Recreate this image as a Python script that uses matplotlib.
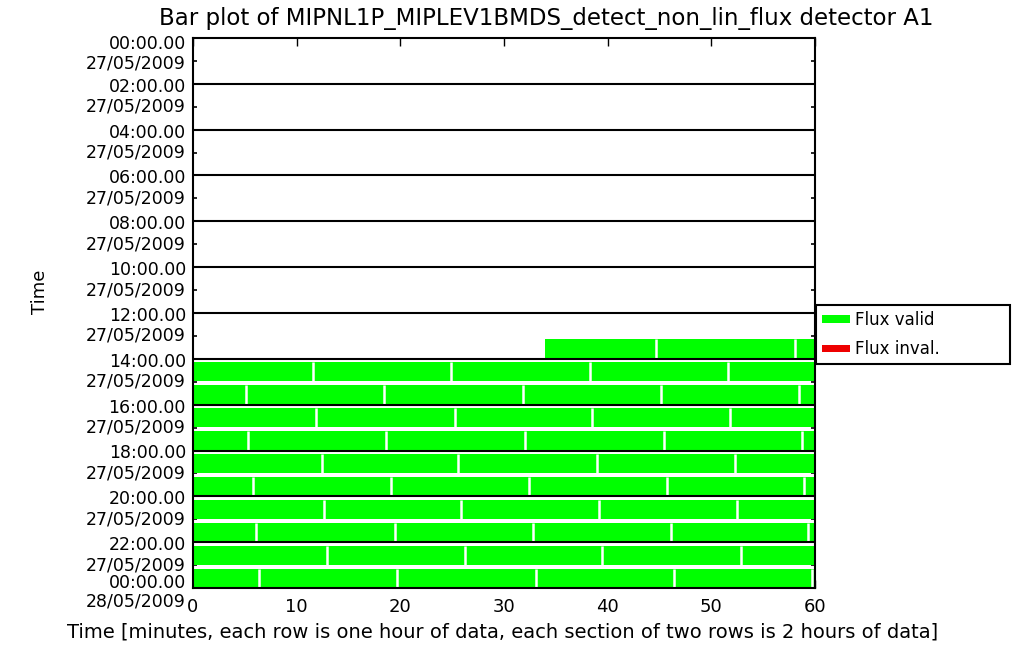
import matplotlib
matplotlib.use('Agg')
import matplotlib.pyplot as plt
from matplotlib.patches import Patch
from matplotlib.transforms import blended_transform_factory, offset_copy

# start of each flux-valid section, minutes since 00:00 27/05/2009
section_start = [814.0, 824.7, 838.1, 851.55, 864.9, 878.25, 891.6, 905.1, 918.4, 931.8,
                 945.1, 958.5, 971.9, 985.3, 998.5, 1011.8, 1025.3, 1038.65, 1052.05, 1065.4,
                 1078.7, 1092.4, 1105.6, 1118.96, 1132.3, 1145.77, 1159.1, 1172.4, 1185.7,
                 1198.9, 1212.6, 1225.9, 1239.2, 1252.5, 1266.1, 1279.45, 1292.75, 1306.1,
                 1319.35, 1332.9, 1346.2, 1359.5, 1372.9, 1386.4, 1399.7, 1413.1, 1426.4,
                 1439.7]
data_end = 1440.0

tick_hours = list(range(0, 25, 2))
tick_times = ['00:00.00', '02:00.00', '04:00.00', '06:00.00', '08:00.00', '10:00.00',
              '12:00.00', '14:00.00', '16:00.00', '18:00.00', '20:00.00', '22:00.00',
              '00:00.00']
tick_dates = ['27/05/2009'] * 12 + ['28/05/2009']
x_ticks = [0, 10, 20, 30, 40, 50, 60]

GREEN = '#00ff00'
RED = '#ee0000'

fig = plt.figure(figsize=(10.16, 6.63), dpi=100)
ax = fig.add_axes([193 / 1016, 1 - 588 / 663, (815 - 193) / 1016, (588 - 38) / 663])

bar_y0, bar_h = 0.15, 0.83
ends = section_start[1:] + [data_end]
for i, (start, stop) in enumerate(zip(section_start, ends)):
    t = start
    while t < stop - 1e-9:
        hr = int(t // 60)
        end = min(stop, (hr + 1) * 60)
        ax.broken_barh([(t - hr * 60, end - t)], (hr + bar_y0, bar_h),
                       facecolors=GREEN, edgecolor='none', zorder=2)
        t = end
    if i > 0:
        hr = int(start // 60)
        ax.vlines(start - hr * 60, hr + bar_y0, hr + bar_y0 + bar_h,
                  colors='white', lw=1.8, zorder=2.5)

for h in tick_hours[1:-1]:
    ax.axhline(h, color='black', lw=1.5, zorder=3)

ax.set_xlim(0, 60)
ax.set_ylim(24, 0)
ax.set_xticks(x_ticks)
ax.set_xticklabels([str(v) for v in x_ticks])
ax.tick_params(axis='x', direction='in', top=True, length=6, width=1,
               labelsize=13, pad=7)
ax.set_yticks(tick_hours)
ax.set_yticks(range(1, 24, 2), minor=True)
ax.tick_params(axis='y', which='major', length=0, labelleft=False)
ax.tick_params(axis='y', which='minor', direction='in', length=3, width=1.2,
               left=True, right=True, labelleft=False)
for s in ax.spines.values():
    s.set_linewidth(1.5)
    s.set_zorder(4)

# two-line time/date labels on the left
trans = blended_transform_factory(ax.transAxes, ax.transData)
for k, (h, tm, dt) in enumerate(zip(tick_hours, tick_times, tick_dates)):
    dy, gap = -3, 20
    if k == 0:
        dy = -6
    elif k == len(tick_hours) - 1:
        dy, gap = 5, 19
    ax.text(0, h, tm, transform=offset_copy(trans, fig, x=-7, y=dy, units='dots'),
            ha='right', va='center', fontsize=12.5)
    ax.text(0, h, dt, transform=offset_copy(trans, fig, x=-7, y=dy - gap, units='dots'),
            ha='right', va='center', fontsize=12.5)

fig.text(546 / 1016, 1 - 18 / 663,
         'Bar plot of MIPNL1P_MIPLEV1BMDS_detect_non_lin_flux detector A1',
         ha='center', va='center', fontsize=16.5)
fig.text(503 / 1016, 1 - 632 / 663,
         'Time [minutes, each row is one hour of data, each section of two rows is 2 hours of data]',
         ha='center', va='center', fontsize=14)
fig.text(40 / 1016, 1 - 292 / 663, 'Time', rotation=90, ha='center', va='center',
         fontsize=13)

handles = [Patch(facecolor=GREEN, edgecolor='none', label='Flux valid'),
           Patch(facecolor=RED, edgecolor='none', label='Flux inval.')]
leg = fig.legend(handles=handles, loc='upper left', mode='expand',
                 bbox_to_anchor=(816 / 1016, 1 - 363 / 663, 194 / 1016, 58 / 663),
                 fontsize=12, handlelength=1.7, handleheight=0.35, handletextpad=0.3,
                 labelspacing=0.7, borderpad=0.35, borderaxespad=0,
                 fancybox=False, framealpha=1)
leg.get_frame().set_edgecolor('black')
leg.get_frame().set_linewidth(1.5)

fig.savefig('out.png', dpi=100)
